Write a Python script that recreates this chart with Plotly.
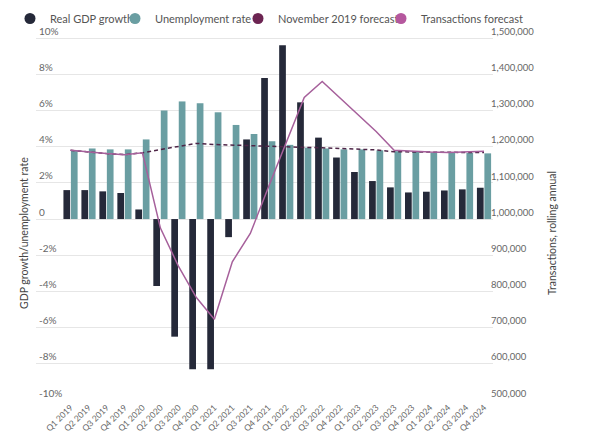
import plotly.graph_objects as go

quarters = ["Q1 2019", "Q2 2019", "Q3 2019", "Q4 2019",
            "Q1 2020", "Q2 2020", "Q3 2020", "Q4 2020",
            "Q1 2021", "Q2 2021", "Q3 2021", "Q4 2021",
            "Q1 2022", "Q2 2022", "Q3 2022", "Q4 2022",
            "Q1 2023", "Q2 2023", "Q3 2023", "Q4 2023",
            "Q1 2024", "Q2 2024", "Q3 2024", "Q4 2024"]

gdp_growth = [1.6, 1.6, 1.53, 1.44, 0.53, -3.7, -6.5, -8.3, -8.3, -1.0, 4.4, 7.8,
              9.6, 6.45, 4.5, 3.4, 2.6, 2.1, 1.75, 1.47, 1.51, 1.58, 1.64, 1.73]

unemployment = [3.8, 3.9, 3.85, 3.85, 4.4, 6.0, 6.5, 6.4, 5.9, 5.2, 4.7, 4.3,
                4.1, 3.95, 3.9, 3.85, 3.85, 3.8, 3.75, 3.72, 3.68, 3.66, 3.65, 3.63]

nov_2019_forecast = [1190000, 1185000, 1181000, 1178000, 1183000, 1192000, 1201000, 1209000,
                     1206000, 1204000, 1203000, 1202000, 1200000, 1198000, 1197000, 1195000,
                     1193000, 1191000, 1186000, 1185000, 1185000, 1184000, 1184000, 1184000]

transactions_forecast = [1190000, 1185000, 1181000, 1178000, 1183000, 975000, 870000, 783000,
                         723000, 882000, 960000, 1087000, 1210000, 1336000, 1380000, 1334000,
                         1289000, 1242000, 1190000, 1187000, 1185000, 1184000, 1185000, 1187000]

left_ticks = [-10, -8, -6, -4, -2, 0, 2, 4, 6, 8, 10]
left_tick_text = ["-10%", "-8%", "-6%", "-4%", "-2%", "0", "2%", "4%", "6%", "8%", "10%"]
right_ticks = [500000, 600000, 700000, 800000, 900000, 1000000,
               1100000, 1200000, 1300000, 1400000, 1500000]

C_GDP = "#252939"
C_UNEMP = "#6a9ea2"
C_NOV = "#4e2547"
C_NOV_LEG = "#6c2452"
C_TRANS = "#a6609b"
C_TRANS_LEG = "#b5579e"
FONT = "Lato"

fig = go.Figure()

fig.add_trace(go.Bar(x=quarters, y=gdp_growth, name="Real GDP growth",
                     marker=dict(color=C_GDP, line=dict(width=0)), showlegend=False))
fig.add_trace(go.Bar(x=quarters, y=unemployment, name="Unemployment rate",
                     marker=dict(color=C_UNEMP, line=dict(width=0)), showlegend=False))
fig.add_trace(go.Scatter(x=quarters, y=nov_2019_forecast, name="November 2019 forecast",
                         mode="lines", yaxis="y2",
                         line=dict(color=C_NOV, width=1.5, dash="4px,3px"), showlegend=False))
fig.add_trace(go.Scatter(x=quarters, y=transactions_forecast, name="Transactions forecast",
                         mode="lines", yaxis="y2",
                         line=dict(color=C_TRANS, width=1.5), showlegend=False))

# legend entries (circle markers), one legend each so they can be placed like the original
legend_items = [("Real GDP growth", C_GDP, "legend"),
                ("Unemployment rate", C_UNEMP, "legend2"),
                ("November 2019 forecast", C_NOV_LEG, "legend3"),
                ("Transactions forecast", C_TRANS_LEG, "legend4")]
for name, col, lg in legend_items:
    fig.add_trace(go.Scatter(x=[None], y=[None], mode="markers", name=name,
                             marker=dict(color=col, size=11, symbol="circle"),
                             legend=lg, showlegend=True))

W, H = 589, 432
L, R, T, B = 28, 104, 12, 40
pw = W - L - R
ph = H - T - B
Y_TOP = 11.0                       # headroom so the top tick label stays visible
Y2_TOP = 500000 + (Y_TOP + 10) * 50000

def px_x(px):
    return (px - L) / pw

def px_y(py):
    return (H - B - py) / ph

text_starts = [52, 157, 280, 423]
leg_common = dict(orientation="h", xanchor="left", yanchor="top",
                  font=dict(family=FONT, size=11, color="#555555"),
                  bgcolor="rgba(0,0,0,0)", borderwidth=0, itemwidth=30,
                  itemclick=False, itemdoubleclick=False)
legends = {}
for i, key in enumerate(["legend", "legend2", "legend3", "legend4"]):
    legends[key] = dict(leg_common, x=px_x(text_starts[i] - 50), y=px_y(-4))

fig.update_layout(
    width=W, height=H,
    margin=dict(l=L, r=R, t=T, b=B, autoexpand=False),
    paper_bgcolor="white", plot_bgcolor="white",
    font=dict(family=FONT, color="#666666"),
    barmode="group", bargap=0.17, bargroupgap=0.1,
    xaxis=dict(type="category", range=[-1.92, 23.5], showgrid=False, showline=False,
               zeroline=False, ticks="", tickangle=-45,
               tickfont=dict(family=FONT, size=8.5, color="#666666"), automargin=False),
    yaxis=dict(range=[-10, Y_TOP], tickvals=left_ticks, ticktext=left_tick_text,
               showgrid=True, gridcolor="#e6e6e6", gridwidth=1, zeroline=False,
               showline=False, ticks="", ticklabelposition="inside top",
               tickfont=dict(family=FONT, size=10, color="#666666"), automargin=False),
    yaxis2=dict(range=[500000, Y2_TOP], tickvals=right_ticks, tickformat=",d",
                overlaying="y", side="right", showgrid=False, zeroline=False,
                showline=False, ticks="", ticklabelposition="outside top",
                ticklabelstandoff=-3,
                tickfont=dict(family=FONT, size=9.5, color="#666666"), automargin=False),
    annotations=[
        dict(text="GDP growth/unemployment rate", xref="paper", yref="paper",
             x=px_x(16), y=px_y(225), textangle=-90, showarrow=False,
             xanchor="center", yanchor="middle",
             font=dict(family=FONT, size=10.5, color="#444444")),
        dict(text="Transactions, rolling annual", xref="paper", yref="paper",
             x=px_x(544), y=px_y(225), textangle=-90, showarrow=False,
             xanchor="center", yanchor="middle",
             font=dict(family=FONT, size=10.5, color="#444444")),
    ],
    **legends,
)

fig.write_html("out.html")
